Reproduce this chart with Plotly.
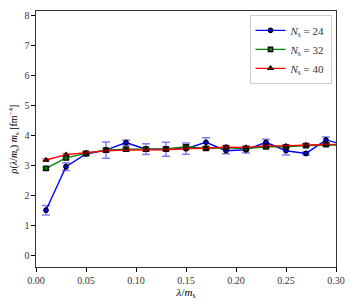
import plotly.graph_objects as go

lam = [0.01, 0.03, 0.05, 0.07, 0.09, 0.11, 0.13, 0.15, 0.17, 0.19, 0.21, 0.23, 0.25, 0.27, 0.29, 0.31]

rho_24 = [1.52, 2.97, 3.39, 3.52, 3.77, 3.55, 3.55, 3.57, 3.78, 3.50, 3.53, 3.78, 3.50, 3.41, 3.86, 3.68]
err_24 = [0.16, 0.13, 0.06, 0.27, 0.09, 0.18, 0.23, 0.19, 0.15, 0.10, 0.11, 0.10, 0.14, 0.05, 0.10, 0.10]

rho_32 = [2.91, 3.26, 3.41, 3.52, 3.55, 3.55, 3.56, 3.63, 3.58, 3.60, 3.57, 3.63, 3.63, 3.67, 3.70, 3.70]
err_32 = [0.04, 0.05, 0.04, 0.05, 0.04, 0.05, 0.05, 0.06, 0.05, 0.05, 0.05, 0.05, 0.05, 0.05, 0.05, 0.05]

rho_40 = [3.19, 3.37, 3.43, 3.50, 3.52, 3.52, 3.53, 3.57, 3.58, 3.62, 3.61, 3.66, 3.66, 3.69, 3.72, 3.72]
err_40 = [0.04, 0.04, 0.04, 0.04, 0.04, 0.04, 0.04, 0.04, 0.04, 0.04, 0.04, 0.04, 0.04, 0.04, 0.04, 0.04]

labels = ["<i>N</i><sub>s</sub> = 24", "<i>N</i><sub>s</sub> = 32", "<i>N</i><sub>s</sub> = 40"]

x_ticks = [0.0, 0.05, 0.10, 0.15, 0.20, 0.25, 0.30]
x_ticklabels = ["0.00", "0.05", "0.10", "0.15", "0.20", "0.25", "0.30"]
y_ticks = [0, 1, 2, 3, 4, 5, 6, 7, 8]

FONT = "Liberation Serif"

fig = go.Figure()
series = [
    (rho_24, err_24, "#0000ff", "rgba(0,0,255,0.5)", "circle"),
    (rho_32, err_32, "#008000", "rgba(0,128,0,0.5)", "square"),
    (rho_40, err_40, "#ff0000", "rgba(255,0,0,0.5)", "triangle-up"),
]
for (y, e, c, ec, sym), name in zip(series, labels):
    fig.add_trace(go.Scatter(
        x=lam, y=y, name=name, mode="lines+markers",
        line=dict(color=c, width=1.4),
        marker=dict(symbol=sym, size=4.5, color=c, line=dict(color="black", width=1.2)),
        error_y=dict(type="data", array=e, color=ec, thickness=1.5, width=4),
        cliponaxis=True,
    ))

fig.update_layout(
    width=357, height=306,
    margin=dict(l=36, r=21, t=11, b=39),
    paper_bgcolor="white", plot_bgcolor="white",
    font=dict(family=FONT, size=10, color="black"),
    showlegend=True,
    legend=dict(
        x=0.985, y=0.985, xanchor="right", yanchor="top",
        bgcolor="rgba(255,255,255,0.8)", bordercolor="#cccccc", borderwidth=1,
        font=dict(family=FONT, size=11, color="#333333"),
        itemwidth=30, tracegroupgap=0,
    ),
    xaxis=dict(
        range=[0, 0.30], tickvals=x_ticks, ticktext=x_ticklabels,
        ticks="outside", ticklen=3.5, tickwidth=0.8, tickcolor="black",
        showline=True, linecolor="#333333", linewidth=1.2, mirror=True,
        showgrid=False, zeroline=False,
        title=dict(text="<i>λ</i>/<i>m</i><sub>s</sub>", standoff=2, font=dict(size=11)),
        tickfont=dict(size=10, color="#333333"),
    ),
    yaxis=dict(
        range=[-0.37, 8.15], tickvals=y_ticks,
        ticks="outside", ticklen=3.5, tickwidth=0.8, tickcolor="black",
        showline=True, linecolor="#333333", linewidth=1.2, mirror=True,
        showgrid=False, zeroline=False,
        title=dict(text="<i>ρ</i>(<i>λ</i>/<i>m</i><sub>s</sub>) <i>m</i><sub>s</sub> [fm<sup>−4</sup>]", standoff=4, font=dict(size=10)),
        tickfont=dict(size=10, color="#333333"),
    ),
)

fig.write_html(
    "out.html",
    config={"displayModeBar": False},
    post_script="document.body.style.margin='0';document.body.style.overflow='hidden';",
)
